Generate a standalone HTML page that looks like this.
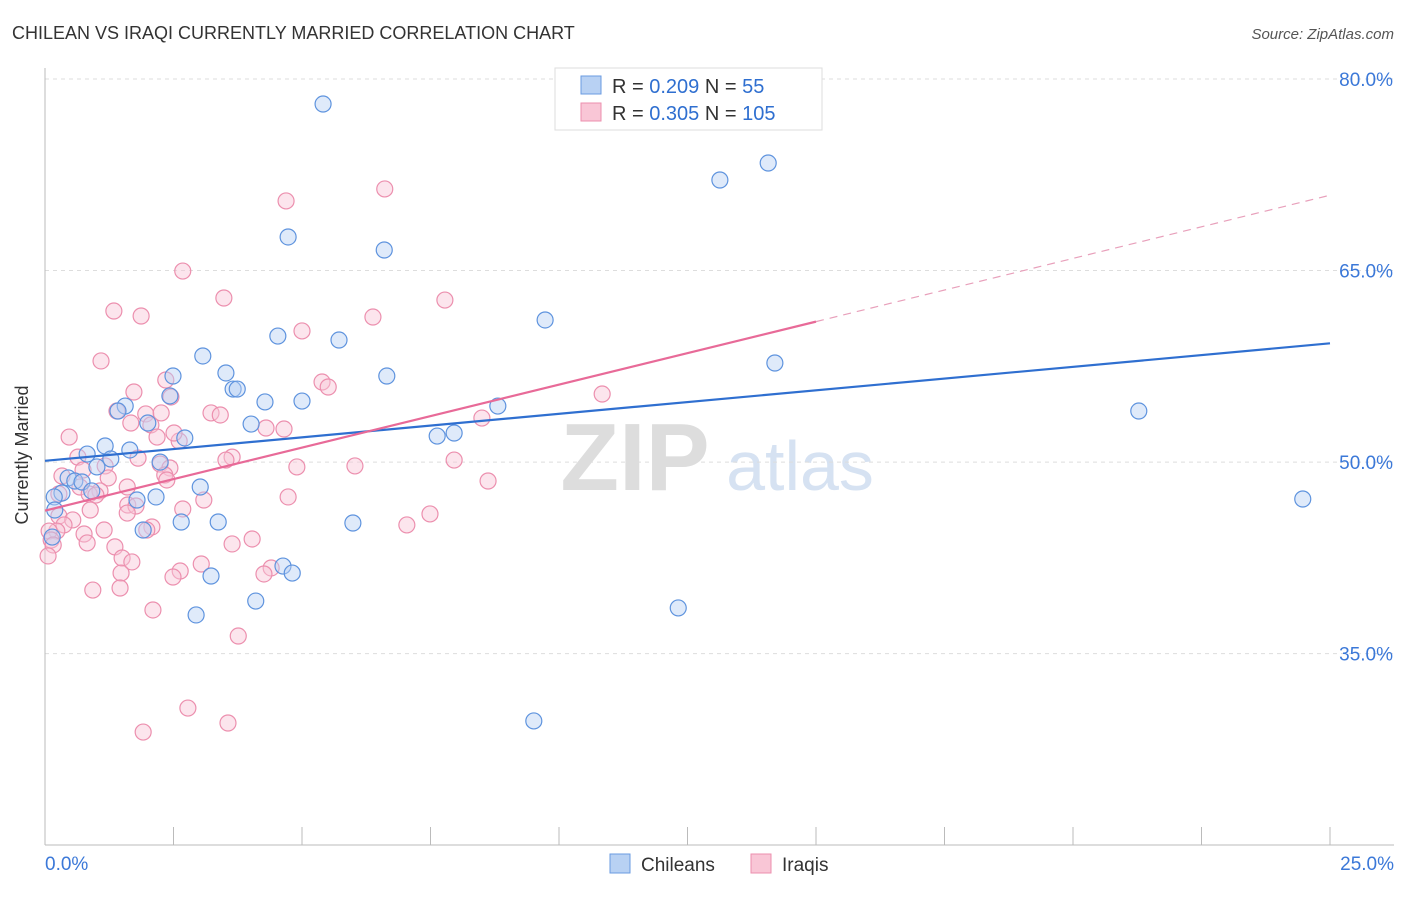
<!DOCTYPE html>
<html><head><meta charset="utf-8"><style>
body{margin:0;background:#fff;font-family:"Liberation Sans",sans-serif;}
svg text{font-family:"Liberation Sans",sans-serif;}
</style></head><body>
<svg id="c" width="1406" height="892">
<text x="12" y="39" font-size="18" fill="#333">CHILEAN VS IRAQI CURRENTLY MARRIED CORRELATION CHART</text>
<text x="1394" y="39" font-size="15" fill="#555" font-style="italic" text-anchor="end">Source: ZipAtlas.com</text>
<text x="635" y="490" font-size="96" fill="#ddd" font-family="Liberation Serif" font-weight="bold" text-anchor="middle">ZIP</text>
<text x="800" y="490" font-size="70" fill="#d6e2f2" text-anchor="middle">atlas</text>
<g id="grid"></g><g id="axes"></g><g id="pts"></g><g id="lines"></g>
<text x="28" y="455" font-size="18" fill="#333" text-anchor="middle" transform="rotate(-90 28 455)">Currently Married</text>
<g>
<rect x="555" y="68" width="267" height="62" fill="#fff" stroke="#ddd"/>
<rect x="581" y="76" width="20" height="18" fill="#b8d1f3" stroke="#6a9be0"/>
<rect x="581" y="103" width="20" height="18" fill="#f9c6d6" stroke="#ec8fae"/>
<text x="612" y="93" font-size="20" fill="#333">R = <tspan fill="#2f6fd0">0.209</tspan>   N =  <tspan fill="#2f6fd0">55</tspan></text>
<text x="612" y="120" font-size="20" fill="#333">R = <tspan fill="#2f6fd0">0.305</tspan>   N = <tspan fill="#2f6fd0">105</tspan></text>
</g>
<g>
<rect x="610" y="854" width="20" height="19" fill="#b8d1f3" stroke="#6a9be0"/>
<text x="641" y="871" font-size="19" fill="#333">Chileans</text>
<rect x="751" y="854" width="20" height="19" fill="#f9c6d6" stroke="#ec8fae"/>
<text x="782" y="871" font-size="19" fill="#333">Iraqis</text>
</g>
</svg>
<script>
const yTicks=[35,50,65,80];
const yTickLabels=["35.0%","50.0%","65.0%","80.0%"];
const xTickLabels=["0.0%","25.0%"];
const blueX=[5.41,4.73,6.60,13.13,14.07,9.73,4.53,5.72,3.07,14.20,2.49,3.52,6.65,3.66,3.74,2.43,4.28,5.00,1.56,1.42,8.81,21.28,2.00,4.01,2.72,7.63,7.96,1.17,1.65,0.82,1.28,2.24,1.01,0.45,0.58,0.72,3.02,0.33,0.91,2.16,1.79,0.18,0.19,2.65,3.37,5.99,1.91,24.47,0.14,4.63,4.81,3.23,4.10,2.94,12.32,9.51];
const blueY=[78.04,67.63,66.61,72.09,73.42,61.13,59.87,59.56,58.31,57.76,56.74,56.98,56.74,55.72,55.72,55.18,54.71,54.78,54.39,54.0,54.39,54.0,53.06,52.98,51.89,52.04,52.28,51.26,50.95,50.63,50.24,50.0,49.62,48.76,48.52,48.44,48.05,47.58,47.74,47.27,47.03,47.27,46.25,45.31,45.31,45.23,44.68,47.11,44.13,41.86,41.31,41.08,39.12,38.03,38.58,29.73];
const pinkX=[6.61,4.69,2.68,3.48,7.78,1.34,1.87,6.38,5.00,1.09,5.39,5.51,2.35,1.73,2.45,10.84,1.40,1.96,2.26,3.23,3.41,8.50,1.67,2.06,4.30,4.65,0.47,2.18,2.61,2.51,3.64,3.52,0.64,1.81,7.96,2.24,1.17,2.43,4.90,6.03,0.74,0.33,2.33,1.23,2.37,8.62,0.68,1.60,1.07,0.86,0.27,4.73,0.99,3.09,1.61,1.77,0.88,2.68,1.60,0.27,0.54,7.49,7.04,0.37,2.08,1.98,1.15,0.76,0.23,0.08,0.12,0.82,4.03,3.64,1.36,0.16,0.06,1.50,1.69,3.04,4.40,2.63,4.26,1.48,2.49,0.93,1.46,2.10,3.76,2.78,3.56,1.91];
const pinkY=[71.39,70.45,64.96,62.85,62.69,61.83,61.44,61.36,60.27,57.92,56.27,55.88,56.43,55.49,55.10,55.33,54.0,53.77,53.85,53.85,53.69,53.45,53.06,52.91,52.67,52.59,51.96,51.96,51.65,52.28,50.39,50.16,50.39,50.31,50.16,49.85,49.7,49.54,49.62,49.7,49.38,48.91,48.99,48.76,48.6,48.52,48.05,48.05,47.74,47.5,47.5,47.27,47.42,47.03,46.64,46.56,46.25,46.33,46.01,45.78,45.47,45.94,45.08,45.08,44.92,44.68,44.68,44.37,44.6,44.6,43.9,43.67,43.98,43.59,43.36,43.51,42.65,42.49,42.18,42.02,41.71,41.47,41.24,41.31,41.0,39.98,40.14,38.42,36.38,30.74,29.57,28.86];
const blueLine=[[0,50.1],[25,59.3]];
const pinkLine=[[0,46.2],[15,61.0]];
const pinkDash=[[15,61.0],[25,70.9]];
const X=v=>45+v/25*1285, Y=v=>79+(80-v)*12.77;
const NS="http://www.w3.org/2000/svg";
function mk(p,t,a){const e=document.createElementNS(NS,t);for(const k in a)e.setAttribute(k,a[k]);p.appendChild(e);return e;}
const grid=document.getElementById('grid'),axes=document.getElementById('axes'),pts=document.getElementById('pts'),lines=document.getElementById('lines');
yTicks.forEach((t,i)=>{
 const g=mk(grid,'line',{x1:45,x2:1394,y1:Y(t),y2:Y(t),stroke:'#ddd','stroke-dasharray':'4,4'});
 
 
 const tx=mk(axes,'text',{x:1393,y:Y(t)+7,'font-size':19,fill:'#3b78d8','text-anchor':'end'});
 tx.textContent=yTickLabels[i];
 
 
});
const ax=mk(axes,'line',{x1:45,x2:1394,y1:845,y2:845,stroke:'#bbb'});


const ay=mk(axes,'line',{x1:45,x2:45,y1:68,y2:845,stroke:'#bbb'});


for(let i=0;i<=10;i++){const t=mk(axes,'line',{x1:X(i*2.5),x2:X(i*2.5),y1:827,y2:845,stroke:'#bbb'});
 
 }
[[0,'start',45],[25,'end',1394]].forEach((d,i)=>{const t=mk(axes,'text',{x:d[2],y:870,'font-size':19,fill:'#3b78d8','text-anchor':d[1]});t.textContent=xTickLabels[i];
 
 });
function dots(xs,ys,fill,stroke,name){xs.forEach((x,i)=>{const c=mk(pts,'circle',{cx:X(x),cy:Y(ys[i]),r:8,fill:fill,'fill-opacity':0.45,stroke:stroke,'stroke-width':1.2});
 
 });}
dots(pinkX,pinkY,'#f9c6d6','#ec8fae','iraqi-point');
dots(blueX,blueY,'#b8d1f3','#5e93de','chilean-point');
function ln(d,col,w,dash,name){const l=mk(lines,'line',{x1:X(d[0][0]),y1:Y(d[0][1]),x2:X(d[1][0]),y2:Y(d[1][1]),stroke:col,'stroke-width':w});if(dash)l.setAttribute('stroke-dasharray',dash);
 
 }
ln(blueLine,'#2f6fd0',2.2,null,'chilean-trendline');
ln(pinkLine,'#e86a98',2.2,null,'iraqi-trendline');
ln(pinkDash,'#e8a0bb',1.2,'8,6','iraqi-trendline-extension');
</script>
</body></html>
